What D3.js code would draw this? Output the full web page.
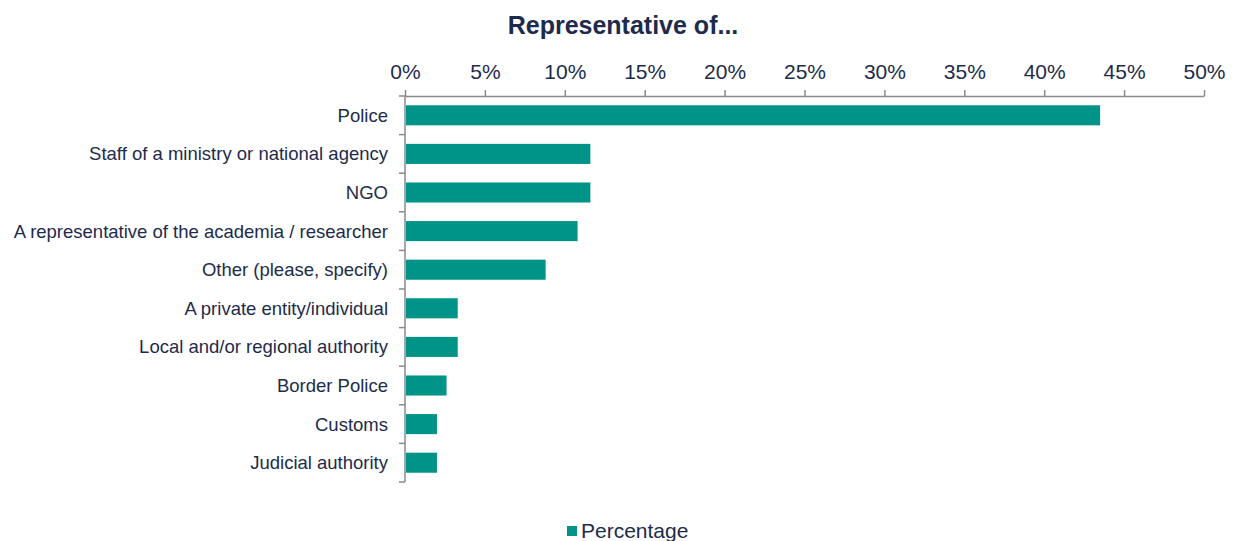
<!DOCTYPE html>
<html>
<head>
<meta charset="utf-8">
<script src="https://cdn.jsdelivr.net/npm/d3@7"></script>
<style>
body { margin: 0; background: #fff; }
text { font-family: "Liberation Sans", Arial, sans-serif; fill: #1d2b4c; }
.axis path, .axis line { stroke: #8a8a8a; stroke-width: 1.5; }
</style>
</head>
<body>
<script>
// data
var categories = ["Police", "Staff of a ministry or national agency", "NGO",
  "A representative of the academia / researcher", "Other (please, specify)",
  "A private entity/individual", "Local and/or regional authority",
  "Border Police", "Customs", "Judicial authority"];
var percentage = [43.5, 11.6, 11.6, 10.8, 8.8, 3.3, 3.3, 2.6, 2.0, 2.0];
var xTicks = [0, 5, 10, 15, 20, 25, 30, 35, 40, 45, 50];

var W = 1239, H = 541;
var margin = {top: 96, left: 405};

var svg = d3.select("body").append("svg")
    .attr("width", W).attr("height", H);

var x = d3.scaleLinear().domain([0, 50]).range([0, 799]);
var y = d3.scaleBand().domain(categories).range([0, 386]).paddingInner(0.48).paddingOuter(0.24);

var g = svg.append("g").attr("transform", "translate(" + margin.left + "," + margin.top + ")");

// title
svg.append("text")
    .attr("x", 623).attr("y", 34)
    .attr("text-anchor", "middle")
    .style("font-size", "25px").style("font-weight", "bold")
    .text("Representative of...");

// top axis
var xAxis = g.append("g").attr("class", "axis")
    .call(d3.axisTop(x).tickValues(xTicks).tickSize(6).tickSizeOuter(0)
      .tickFormat(function(d) { return d + "%"; }));
xAxis.selectAll("text").style("font-size", "21px").attr("dy", 0).attr("y", -17);

// left axis with ticks between categories
var step = 386 / categories.length;
g.append("line")
    .attr("x1", 0).attr("x2", 0).attr("y1", 0).attr("y2", 386)
    .attr("stroke", "#8a8a8a").attr("stroke-width", 1.5);
g.selectAll(".ytick").data(d3.range(categories.length + 1))
  .enter().append("line")
    .attr("x1", -6).attr("x2", 0)
    .attr("y1", function(d) { return d * step; })
    .attr("y2", function(d) { return d * step; })
    .attr("stroke", "#8a8a8a").attr("stroke-width", 1.5);

g.selectAll(".cat").data(categories)
  .enter().append("text")
    .attr("x", -17)
    .attr("y", function(d) { return y(d) + y.bandwidth() / 2; })
    .attr("dy", "0.35em")
    .attr("text-anchor", "end")
    .style("font-size", "18.5px")
    .text(function(d) { return d; });

// bars
g.selectAll(".bar").data(percentage)
  .enter().append("rect")
    .attr("x", 1)
    .attr("y", function(d, i) { return y(categories[i]); })
    .attr("width", function(d) { return x(d) - 1; })
    .attr("height", y.bandwidth())
    .attr("fill", "#009488");

// legend
svg.append("rect").attr("x", 567).attr("y", 526).attr("width", 10).attr("height", 10).attr("fill", "#009488");
svg.append("text").attr("x", 581).attr("y", 538).style("font-size", "21px").text("Percentage");
</script>
</body>
</html>
